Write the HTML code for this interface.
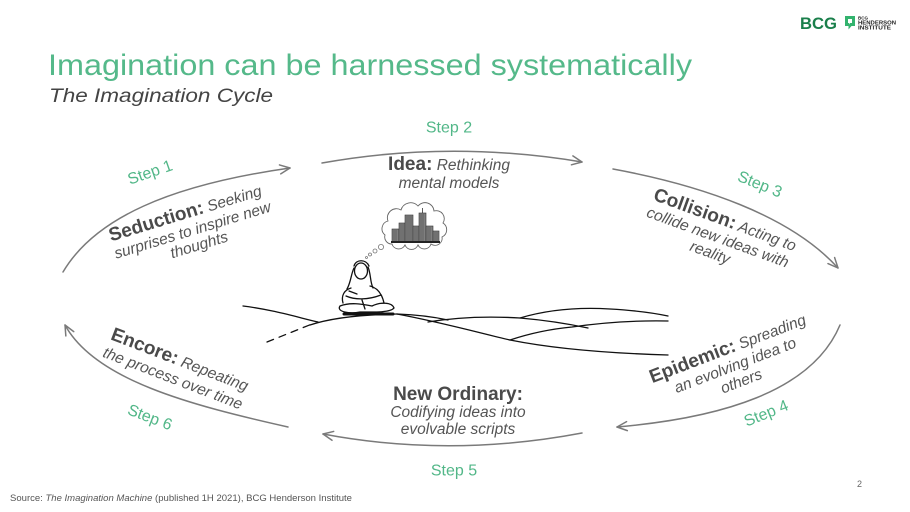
<!DOCTYPE html>
<html>
<head>
<meta charset="utf-8">
<style>
  html,body{margin:0;padding:0;background:#fff;}
  body{width:910px;height:512px;overflow:hidden;}
  svg{display:block;font-family:"Liberation Sans",Arial,sans-serif;}
</style>
</head>
<body>
<svg width="910" height="512" viewBox="0 0 910 512" xmlns="http://www.w3.org/2000/svg">
  <defs>
    <marker id="ah" markerUnits="userSpaceOnUse" markerWidth="14" markerHeight="12" refX="10" refY="4.5" orient="auto" overflow="visible">
      <path d="M0,0 L10,4.5 L0,9" fill="none" stroke="#7a7a7a" stroke-width="1.5" stroke-linecap="round" stroke-linejoin="round"/>
    </marker>
  </defs>

  <!-- Logo -->
  <text x="800" y="29" font-size="17" font-weight="bold" fill="#1a7f4b" textLength="37" lengthAdjust="spacingAndGlyphs">BCG</text>
  <path d="M845,16 h10 v10 h-3.5 l-3,3.5 v-3.5 h-3.5 z" fill="#33b36e"/>
  <path d="M848,19 h4 v4 h-2 l-1,1.5 v-1.5 h-1 z" fill="#fff"/>
  <text x="858" y="19.5" font-size="4.5" font-weight="bold" fill="#222">BCG</text>
  <text x="858" y="24.5" font-size="5" font-weight="bold" fill="#222" textLength="38" lengthAdjust="spacingAndGlyphs">HENDERSON</text>
  <text x="858" y="29.5" font-size="5" font-weight="bold" fill="#222" textLength="33" lengthAdjust="spacingAndGlyphs">INSTITUTE</text>

  <!-- Title -->
  <text x="48" y="75" font-size="30" fill="#55b98a" textLength="644" lengthAdjust="spacingAndGlyphs">Imagination can be harnessed systematically</text>
  <text x="49" y="102" font-size="19" font-style="italic" fill="#444" textLength="224" lengthAdjust="spacingAndGlyphs">The Imagination Cycle</text>

  <!-- Arrows -->
  <g fill="none" stroke="#7a7a7a" stroke-width="1.5" stroke-linecap="round">
    <path d="M63,272 C95,218 170,185 290,168" marker-end="url(#ah)"/>
    <path d="M322,163 Q450,140 582,162" marker-end="url(#ah)"/>
    <path d="M613,169 C700,185 790,215 838,268" marker-end="url(#ah)"/>
    <path d="M840,325 C812,392 720,418 617,427" marker-end="url(#ah)"/>
    <path d="M582,433 Q450,458 323,434" marker-end="url(#ah)"/>
    <path d="M288,427 C190,405 95,380 65,325" marker-end="url(#ah)"/>
  </g>

  <!-- Step labels -->
  <g font-size="16" fill="#52b788" text-anchor="middle">
    <text transform="translate(150,172) rotate(-19)" y="5.5">Step 1</text>
    <text x="449" y="132.5">Step 2</text>
    <text transform="translate(760,184) rotate(22)" y="5.5">Step 3</text>
    <text transform="translate(766,413) rotate(-22)" y="5.5">Step 4</text>
    <text x="454" y="475.5">Step 5</text>
    <text transform="translate(150,417) rotate(21)" y="5.5">Step 6</text>
  </g>

  <!-- Stage texts -->
  <g text-anchor="middle" fill="#555">
    <g transform="translate(194,235) rotate(-17)">
      <text x="-2" y="-18"><tspan font-weight="bold" font-size="19" fill="#4a4a4a">Seduction:</tspan><tspan font-style="italic" font-size="15.5"> Seeking</tspan></text>
      <text y="0" font-style="italic" font-size="15.5">surprises to inspire new</text>
      <text x="2" y="16" font-style="italic" font-size="15.5">thoughts</text>
    </g>

    <text x="449" y="170"><tspan font-weight="bold" font-size="19" fill="#4a4a4a">Idea:</tspan><tspan font-style="italic" font-size="15.5"> Rethinking</tspan></text>
    <text x="449" y="188" font-style="italic" font-size="15.5">mental models</text>

    <g transform="translate(716,242) rotate(20)">
      <text x="1" y="-18"><tspan font-weight="bold" font-size="19" fill="#4a4a4a">Collision:</tspan><tspan font-style="italic" font-size="15.5"> Acting to</tspan></text>
      <text y="0" font-style="italic" font-size="15.5">collide new ideas with</text>
      <text x="-2" y="17" font-style="italic" font-size="15.5">reality</text>
    </g>

    <g transform="translate(737,370) rotate(-21)">
      <text x="-1" y="-18"><tspan font-weight="bold" font-size="19" fill="#4a4a4a">Epidemic:</tspan><tspan font-style="italic" font-size="15.5"> Spreading</tspan></text>
      <text y="0" font-style="italic" font-size="15.5">an evolving idea to</text>
      <text y="17" font-style="italic" font-size="15.5">others</text>
    </g>

    <g transform="translate(171,383) rotate(21)">
      <text y="-19"><tspan font-weight="bold" font-size="19" fill="#4a4a4a">Encore:</tspan><tspan font-style="italic" font-size="15.5"> Repeating</tspan></text>
      <text y="0" font-style="italic" font-size="15.5">the process over time</text>
    </g>

    <text x="458" y="400" font-weight="bold" font-size="19" fill="#4a4a4a">New Ordinary:</text>
    <text x="458" y="417" font-style="italic" font-size="15.5">Codifying ideas into</text>
    <text x="458" y="434" font-style="italic" font-size="15.5">evolvable scripts</text>
  </g>

  <!-- Hills -->
  <g fill="none" stroke="#111" stroke-width="1.3" stroke-linecap="round">
    <path d="M243,306 C275,310 300,318 318,322"/>
    <path d="M267,342 L312,324" stroke-dasharray="7,6"/>
    <path d="M310,325 Q340,315 397,314"/>
    <path d="M397,314 C440,322 480,333 510,340 C550,348 600,353 668,355"/>
    <path d="M397,314 Q425,315 448,320"/>
    <path d="M428,322 Q470,315 520,318 Q555,321 588,328"/>
    <path d="M520,318 Q560,306 610,309 Q645,311 668,316"/>
    <path d="M510,340 Q540,330 572,327 Q620,320 668,321"/>
  </g>

  <!-- Thought cloud -->
  <path d="M392,244 A7,7 0 0 1 385,235 A8,8 0 0 1 388,221 A9,9 0 0 1 401,210 A10,10 0 0 1 418,206 A9,9 0 0 1 434,211 A8,8 0 0 1 443,223 A8,8 0 0 1 442,237 A7,7 0 0 1 431,244 A7,7 0 0 1 418,245 A7,7 0 0 1 405,245 A7,7 0 0 1 392,244 Z" fill="#fff" stroke="#666" stroke-width="0.9"/>
  <g fill="#808080" stroke="#333" stroke-width="0.6">
    <rect x="392" y="229" width="7" height="13"/>
    <rect x="399" y="223" width="6" height="19"/>
    <rect x="405" y="215" width="8" height="27"/>
    <rect x="413" y="226" width="6" height="16"/>
    <rect x="419" y="213" width="7" height="29"/>
    <rect x="426" y="226" width="7" height="16"/>
    <rect x="433" y="231" width="6" height="11"/>
  </g>
  <g stroke="#444" stroke-width="0.5">
    <path d="M394,230 v11 M396,230 v11 M401,224 v17 M403,224 v17 M407,216 v25 M409,216 v25 M411,216 v25 M415,227 v14 M417,227 v14 M421,214 v27 M423,214 v27 M428,227 v14 M430,227 v14 M435,232 v9 M437,232 v9"/>
  </g>
  <path d="M422.5,213 v-5" stroke="#333" stroke-width="0.8"/>
  <path d="M391,242 h49" stroke="#222" stroke-width="2"/>
  <g fill="#fff" stroke="#777" stroke-width="0.8">
    <circle cx="381" cy="247" r="2.6"/>
    <circle cx="375" cy="251" r="2"/>
    <circle cx="370" cy="254.5" r="1.5"/>
    <circle cx="366.5" cy="257.5" r="1"/>
  </g>

  <!-- Person -->
  <g fill="none" stroke="#111" stroke-width="1.3" stroke-linecap="round" stroke-linejoin="round">
    <ellipse cx="361" cy="271" rx="6.5" ry="8"/>
    <path d="M354,268 C351,274 351,282 347,289"/>
    <path d="M368,267 C371,274 370,282 373,288"/>
    <path d="M354,266 C356,259 366,259 369,266"/>
    <path d="M351,288 C344,290 341,296 343,303"/>
    <path d="M370,286 C378,288 382,294 384,303"/>
    <path d="M346,296 C355,300 368,300 381,295"/>
    <path d="M349,291 L357,294"/>
    <path d="M340,306 C336,312 350,314 360,312 C372,312 390,313 394,308 C392,302 380,302 372,306 C362,304 350,302 340,306 Z"/>
    <path d="M362,300 L365,309"/>
  </g>
  <path d="M344,314 L393,314" stroke="#111" stroke-width="3" stroke-linecap="round"/>

  <!-- Footer -->
  <text x="857" y="487" font-size="9" fill="#666">2</text>
  <text x="10" y="501" font-size="9" fill="#555" textLength="342" lengthAdjust="spacingAndGlyphs">Source: <tspan font-style="italic">The Imagination Machine</tspan> (published 1H 2021), BCG Henderson Institute</text>
</svg>
</body>
</html>
